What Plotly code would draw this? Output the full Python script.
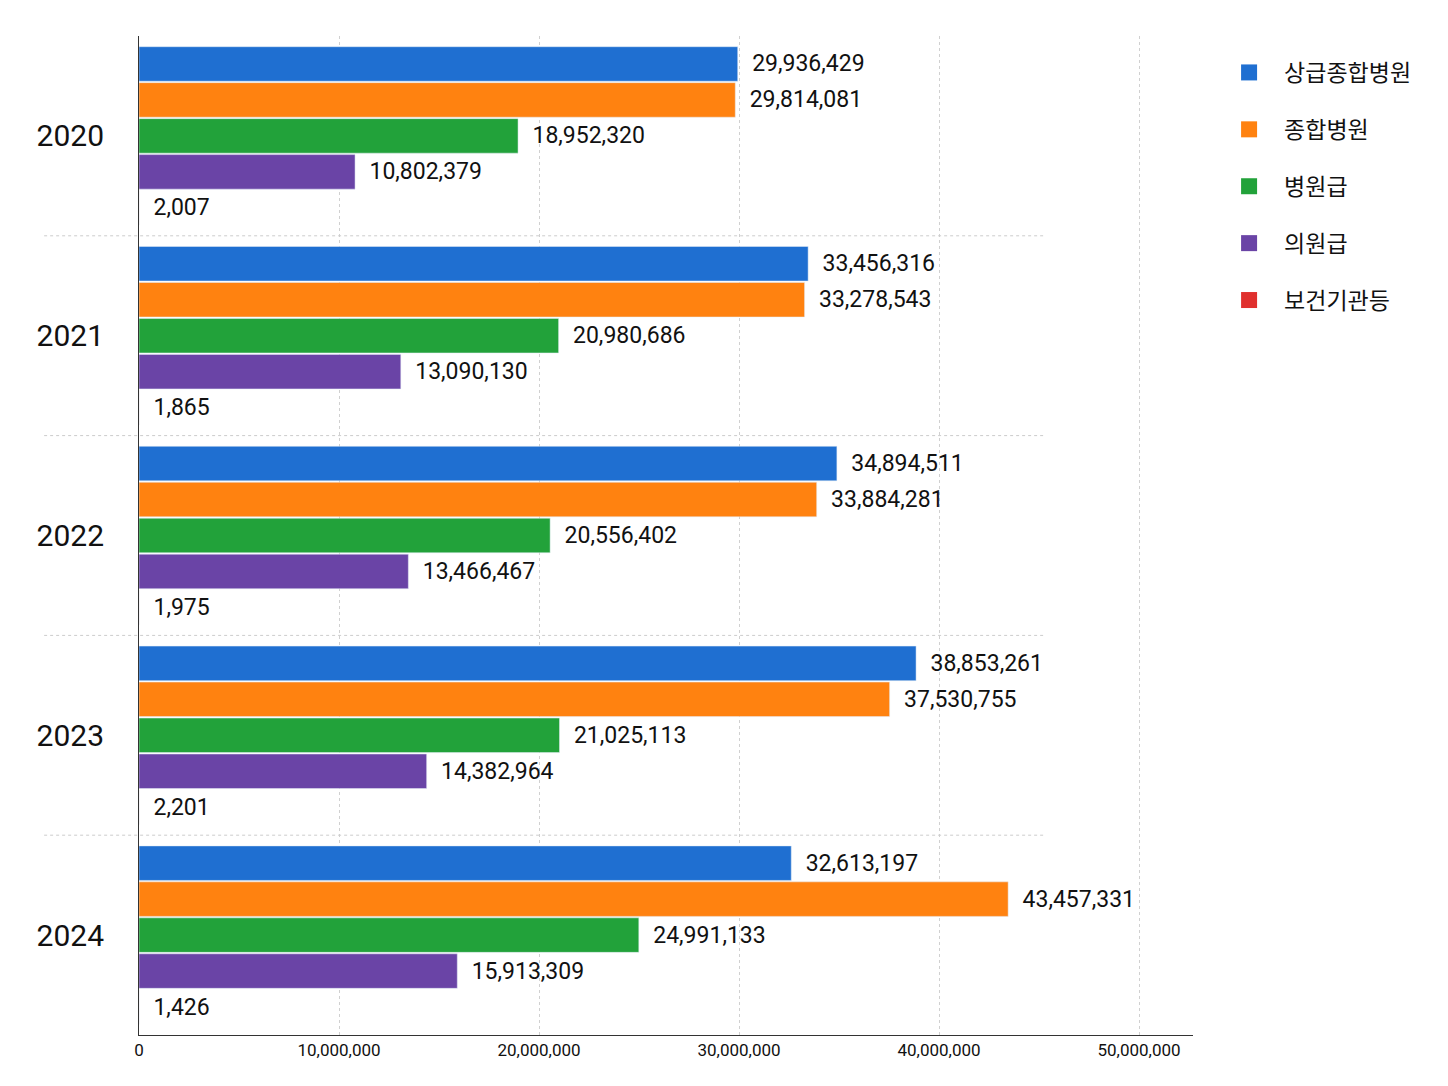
import plotly.graph_objects as go

years = ['2020', '2021', '2022', '2023', '2024']
series_names = ['상급종합병원', '종합병원', '병원급', '의원급', '보건기관등']
colors = ['#1f6fd1', '#ff8210', '#22a23a', '#6a44a6', '#e0302e']

sanggeup = [29936429, 33456316, 34894511, 38853261, 32613197]
jonghap = [29814081, 33278543, 33884281, 37530755, 43457331]
byeongwon = [18952320, 20980686, 20556402, 21025113, 24991133]
uiwon = [10802379, 13090130, 13466467, 14382964, 15913309]
bogeon = [2007, 1865, 1975, 2201, 1426]

all_values = [sanggeup, jonghap, byeongwon, uiwon, bogeon]

fig = go.Figure()
for name, vals, col in zip(series_names, all_values, colors):
    fig.add_trace(go.Bar(
        y=years, x=vals, name=name, orientation='h',
        marker=dict(color=col), showlegend=False,
        text=[f'  {v:,}' for v in vals], textposition='outside',
        textfont=dict(size=23, color='#111'), cliponaxis=False,
    ))

# legend entries with big square swatches
for name, col in zip(series_names, colors):
    fig.add_trace(go.Scatter(
        x=[None], y=[None], mode='markers', name=name, legendgroup=name,
        marker=dict(symbol='square', size=34, color=col),
    ))

# dashed separators between year groups
shapes = []
for i in range(len(years) - 1):
    shapes.append(dict(type='line', xref='paper', yref='y',
                       x0=-0.09, x1=0.86, y0=i + 0.5, y1=i + 0.5,
                       line=dict(color='#cccccc', width=1, dash='dot')))

fig.update_layout(
    width=1448, height=1086,
    barmode='group', bargap=0.1, bargroupgap=0.04,
    paper_bgcolor='white', plot_bgcolor='white',
    font=dict(family='Roboto, Noto Sans CJK KR', color='#111'),
    margin=dict(l=131, r=263, t=28, b=59, autoexpand=False),
    shapes=shapes,
    legend=dict(x=1.02, y=0.985, xanchor='left', yanchor='top',
                font=dict(size=23), itemwidth=60, tracegroupgap=24,
                itemsizing='trace'),
    xaxis=dict(range=[0, 52700000], tickvals=[0, 10000000, 20000000, 30000000, 40000000, 50000000],
               tickformat=',', tickfont=dict(size=17), showgrid=True,
               gridcolor='#d0d0d0', griddash='dot', showline=True,
               linecolor='#333', zeroline=False),
    yaxis=dict(autorange='reversed', tickfont=dict(size=30), showline=True,
               linecolor='#333', ticks='', ticklabelstandoff=28),
)

fig.write_html("out.html")
